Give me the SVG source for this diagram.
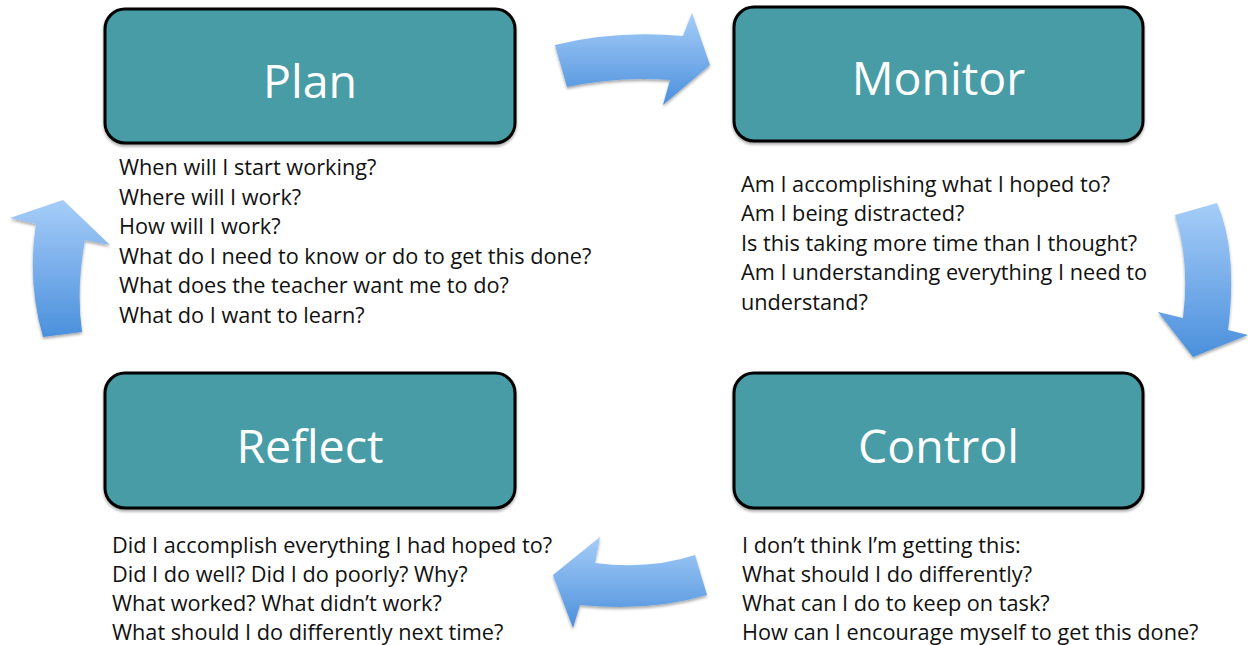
<svg xmlns="http://www.w3.org/2000/svg" width="1248" height="645" viewBox="0 0 1248 645">
  <defs>
    <linearGradient id="arrowFill" x1="0" y1="0" x2="0" y2="1">
      <stop offset="0" stop-color="#a6cdf8"/>
      <stop offset="1" stop-color="#4b90dc"/>
    </linearGradient>
    <filter id="softShadow" x="-20%" y="-20%" width="140%" height="140%">
      <feGaussianBlur in="SourceAlpha" stdDeviation="1.6"/>
      <feOffset dx="0" dy="2" result="blur"/>
      <feComponentTransfer><feFuncA type="linear" slope="0.35"/></feComponentTransfer>
      <feMerge><feMergeNode/><feMergeNode in="SourceGraphic"/></feMerge>
    </filter>
  </defs>
  <style>
    .box { fill: #479ca6; stroke: #000; stroke-width: 3; }
    .title { font-family: "Open Sans", "Noto Sans", sans-serif; font-size: 46.5px; fill: #fff; text-anchor: middle; }
    .q { font-family: "Open Sans", "Noto Sans", sans-serif; font-size: 21.7px; fill: #111; }
    .arrow { fill: url(#arrowFill); filter: url(#softShadow); }
  </style>
  <rect width="1248" height="645" fill="#fff"/>

  <!-- curved block arrows forming the cycle -->
  <g id="connectors">
    <path class="arrow" d="M555,45 Q615,30 683,36 L692,13 L710,65 L663,105 L670,80 Q620,76 567,87 Z"/>
    <path class="arrow" d="M1175,215 Q1190,262 1183,318 L1158,312 L1193,357 L1248,335 L1228,330 Q1238,252 1217,203 Z"/>
    <path class="arrow" d="M707,595 Q650,612 580,605 L573,628 L553,575 L600,537 L595,563 Q650,570 695,555 Z"/>
    <path class="arrow" d="M43,337 Q27,282 36,224 L10,218 L63,200 L110,245 L85,240 Q76,290 82,332 Z"/>
  </g>

  <g id="plan">
    <rect class="box" x="105" y="9" width="410" height="134" rx="20" filter="url(#softShadow)"/>
    <text class="title" x="310" y="98">Plan</text>
    <text class="q" x="119" y="175">When will I start working?</text>
    <text class="q" x="119" y="204.5">Where will I work?</text>
    <text class="q" x="119" y="234">How will I work?</text>
    <text class="q" x="119" y="263.5">What do I need to know or do to get this done?</text>
    <text class="q" x="119" y="293">What does the teacher want me to do?</text>
    <text class="q" x="119" y="322.5">What do I want to learn?</text>
  </g>

  <g id="monitor">
    <rect class="box" x="734" y="7" width="409" height="134" rx="20" filter="url(#softShadow)"/>
    <text class="title" x="938.5" y="95">Monitor</text>
    <text class="q" x="741" y="192">Am I accomplishing what I hoped to?</text>
    <text class="q" x="741" y="221">Am I being distracted?</text>
    <text class="q" x="741" y="250.5">Is this taking more time than I thought?</text>
    <text class="q" x="741" y="280">Am I understanding everything I need to</text>
    <text class="q" x="741" y="309.5">understand?</text>
  </g>

  <g id="control">
    <rect class="box" x="734" y="373" width="409" height="135" rx="20" filter="url(#softShadow)"/>
    <text class="title" x="938.5" y="463">Control</text>
    <text class="q" x="742" y="553">I don’t think I’m getting this:</text>
    <text class="q" x="742" y="582">What should I do differently?</text>
    <text class="q" x="742" y="611">What can I do to keep on task?</text>
    <text class="q" x="742" y="640">How can I encourage myself to get this done?</text>
  </g>

  <g id="reflect">
    <rect class="box" x="105" y="373" width="410" height="135" rx="20" filter="url(#softShadow)"/>
    <text class="title" x="310" y="463">Reflect</text>
    <text class="q" x="112" y="553">Did I accomplish everything I had hoped to?</text>
    <text class="q" x="112" y="582">Did I do well? Did I do poorly? Why?</text>
    <text class="q" x="112" y="611">What worked? What didn’t work?</text>
    <text class="q" x="112" y="640">What should I do differently next time?</text>
  </g>
</svg>
